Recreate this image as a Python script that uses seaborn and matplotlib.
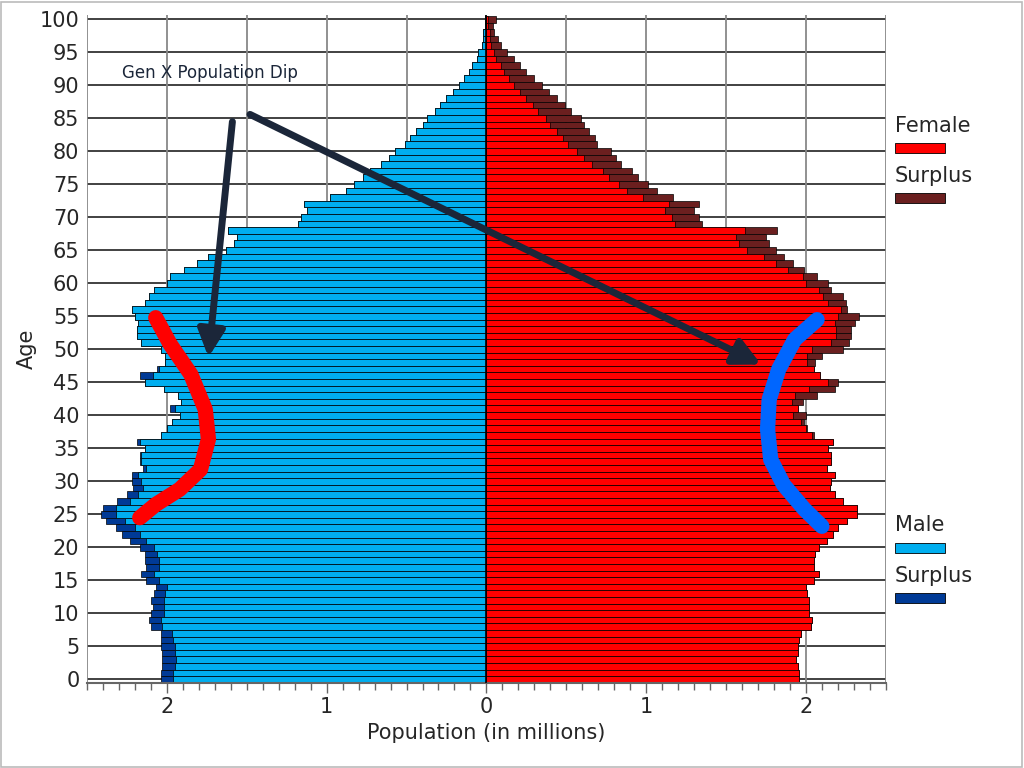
import numpy as np
import pandas as pd
import matplotlib
matplotlib.use("Agg")
import matplotlib.pyplot as plt
from matplotlib.patches import Rectangle
import seaborn as sns

ages = list(range(0, 101))
# male population (millions), age 0..100
male = [2.04, 2.04, 2.03, 2.03, 2.03, 2.04, 2.04, 2.04, 2.10, 2.11,
        2.10, 2.09, 2.10, 2.08, 2.07, 2.13, 2.16, 2.13, 2.14, 2.14,
        2.17, 2.23, 2.28, 2.32, 2.38, 2.41, 2.40, 2.31, 2.25, 2.21,
        2.22, 2.22, 2.15, 2.17, 2.17, 2.14, 2.19, 2.04, 2.00, 1.97,
        1.92, 1.98, 1.91, 1.93, 2.02, 2.14, 2.17, 2.06, 2.01, 2.01,
        2.04, 2.16, 2.19, 2.19, 2.18, 2.20, 2.22, 2.14, 2.11, 2.08,
        2.00, 1.98, 1.89, 1.81, 1.74, 1.63, 1.58, 1.56, 1.62, 1.18,
        1.16, 1.12, 1.14, 0.98, 0.88, 0.83, 0.77, 0.73, 0.66, 0.61,
        0.57, 0.51, 0.48, 0.44, 0.40, 0.37, 0.32, 0.29, 0.25, 0.21,
        0.17, 0.14, 0.11, 0.09, 0.06, 0.05, 0.03, 0.02, 0.02, 0.01, 0.01]
# female population (millions), age 0..100
female = [1.96, 1.96, 1.95, 1.94, 1.95, 1.95, 1.96, 1.97, 2.03, 2.04,
          2.02, 2.02, 2.02, 2.01, 2.00, 2.05, 2.08, 2.05, 2.05, 2.06,
          2.08, 2.13, 2.17, 2.20, 2.26, 2.32, 2.32, 2.23, 2.18, 2.15,
          2.16, 2.18, 2.13, 2.16, 2.16, 2.14, 2.17, 2.05, 2.01, 1.99,
          2.00, 1.95, 1.98, 2.07, 2.18, 2.20, 2.09, 2.05, 2.06, 2.10,
          2.23, 2.27, 2.28, 2.28, 2.31, 2.33, 2.26, 2.25, 2.23, 2.16,
          2.14, 2.07, 1.99, 1.92, 1.86, 1.81, 1.77, 1.75, 1.82, 1.35,
          1.33, 1.30, 1.33, 1.17, 1.07, 1.01, 0.95, 0.91, 0.84, 0.81,
          0.78, 0.69, 0.68, 0.64, 0.61, 0.59, 0.53, 0.49, 0.44, 0.39,
          0.35, 0.30, 0.25, 0.21, 0.17, 0.13, 0.09, 0.07, 0.05, 0.04, 0.06]
x_ticks = [-2, -1, 0, 1, 2]
x_tick_labels = ["2", "1", "0", "1", "2"]
y_ticks = list(range(0, 101, 5))

C_MALE, C_MALE_S = "#00aeef", "#003a96"
C_FEM, C_FEM_S = "#ff0000", "#6b1f1f"
NAVY = "#1b2639"

df = pd.DataFrame({"age": ages, "male": male, "female": female})
df["common"] = np.minimum(df.male, df.female)
df["male_neg"] = -df.male
df["common_neg"] = -df.common

sns.set_style("white")
fig = plt.figure(figsize=(10.24, 7.68), dpi=100)
ax = fig.add_axes([0.085, 0.111, 0.78, 0.869])

ax.set_xlim(-2.5, 2.5)
ax.set_ylim(-0.5, 100.6)
for yv in y_ticks:
    ax.axhline(yv, color="#333333", lw=1.3, zorder=0)
for xv in np.arange(-2.5, 2.51, 0.5):
    ax.axvline(xv, color="#888888", lw=1.3, zorder=0)

kw = dict(orient="y", native_scale=True, width=1.0, edgecolor="black",
          linewidth=0.5, ax=ax, zorder=2)
sns.barplot(data=df, x="male_neg", y="age", color=C_MALE_S, saturation=1, **kw)
sns.barplot(data=df, x="common_neg", y="age", color=C_MALE, saturation=1, **kw)
sns.barplot(data=df, x="female", y="age", color=C_FEM_S, saturation=1, **kw)
sns.barplot(data=df, x="common", y="age", color=C_FEM, saturation=1, **kw)
ax.axvline(0, color="black", lw=1.2, zorder=3)
ax.set_xlim(-2.5, 2.5)
ax.set_ylim(-0.5, 100.6)

ax.set_xticks(x_ticks)
ax.set_xticklabels(x_tick_labels, fontsize=15)
ax.set_xticks(np.arange(-2.5, 2.51, 0.1), minor=True)
ax.set_yticks(y_ticks)
ax.set_yticklabels([str(v) for v in y_ticks], fontsize=15)
ax.tick_params(axis="x", which="both", direction="out", bottom=True, length=7, width=1, color="#666666")
ax.tick_params(axis="x", which="minor", length=5)
ax.tick_params(axis="y", left=False, pad=2)
ax.set_xlabel("Population (in millions)", fontsize=15)
ax.set_ylabel("Age", fontsize=15, labelpad=2)
for side in ["top", "right", "left"]:
    ax.spines[side].set_visible(False)
ax.spines["bottom"].set_color("#666666")
ax.spines["bottom"].set_linewidth(1.5)

# annotations
ax.text(-2.28, 91.8, "Gen X Population Dip", fontsize=12, color=NAVY, va="center")
red_x = [-2.07, -1.98, -1.85, -1.76, -1.74, -1.79, -1.92, -2.07, -2.17]
red_y = [54.8, 50.8, 46.2, 40.9, 36.4, 31.8, 28.8, 26.5, 24.5]
blue_x = [2.07, 1.93, 1.83, 1.77, 1.76, 1.78, 1.86, 1.99, 2.10]
blue_y = [54.5, 51.5, 47.0, 42.4, 37.9, 33.3, 29.5, 25.8, 23.2]
ax.plot(red_x, red_y, color="#ff0000", lw=11, solid_capstyle="round", zorder=5)
ax.plot(blue_x, blue_y, color="#0066ff", lw=11, solid_capstyle="round", zorder=5)
for (x0, y0, x1, y1) in [(-1.59, 84.5, -1.74, 48.8), (-1.48, 85.6, 1.72, 47.7)]:
    ax.annotate("", xy=(x1, y1), xytext=(x0, y0), zorder=6,
                arrowprops=dict(arrowstyle="-|>,head_length=1.6,head_width=0.8",
                                color=NAVY, lw=5, shrinkA=0, shrinkB=0))

# legend
def leg_text(y, s):
    fig.text(0.874, y, s, fontsize=15, va="center", ha="left")
def leg_patch(y, c):
    fig.patches.append(Rectangle((0.874, y - 0.007), 0.049, 0.014, transform=fig.transFigure,
                                 facecolor=c, edgecolor="black", lw=0.6))
leg_text(1 - 126 / 768, "Female"); leg_patch(1 - 148 / 768, C_FEM)
leg_text(1 - 176 / 768, "Surplus"); leg_patch(1 - 198 / 768, C_FEM_S)
leg_text(1 - 525 / 768, "Male"); leg_patch(1 - 548 / 768, C_MALE)
leg_text(1 - 576 / 768, "Surplus"); leg_patch(1 - 598 / 768, C_MALE_S)

fig.patches.append(Rectangle((0.001, 0.001), 0.997, 0.997, transform=fig.transFigure,
                             facecolor="none", edgecolor="#bbbbbb", lw=1.2))
fig.savefig("out.png", dpi=100)
